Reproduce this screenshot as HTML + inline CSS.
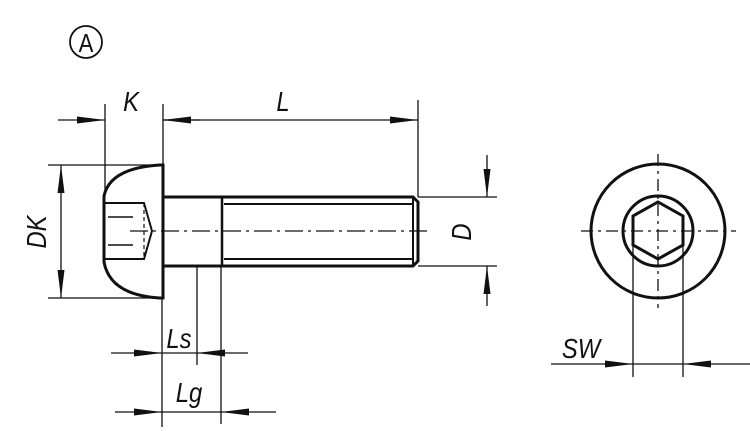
<!DOCTYPE html>
<html><head><style>body{margin:0;background:#fff}svg{display:block}
text{font-family:"Liberation Sans",sans-serif;font-style:italic;font-size:28px;fill:#111}</style></head>
<body><svg width="750" height="431" viewBox="0 0 750 431" xmlns="http://www.w3.org/2000/svg">
<defs><marker id="a" viewBox="0 0 10 10" refX="10" refY="5" markerWidth="28" markerHeight="7" markerUnits="userSpaceOnUse" orient="auto" preserveAspectRatio="none"><path d="M0,0L10,5L0,10z" fill="#111"/></marker></defs>
<g stroke="#111" fill="none">
<circle cx="86" cy="42" r="16" stroke-width="1.8"/>
<path d="M104,196 Q110,168 160,165 L163,165 L163,298 L160,298 Q110,295 104,262 Z" stroke-width="3"/>
<path d="M163,197 L413,197 L418,202 L418,261 L413,266 L163,266" stroke-width="3"/>
<line x1="222" y1="197" x2="222" y2="266" stroke-width="2.5"/>
<line x1="224" y1="204" x2="412" y2="204" stroke-width="2"/>
<line x1="224" y1="259" x2="412" y2="259" stroke-width="2"/>
<line x1="413" y1="197" x2="413" y2="266" stroke-width="2"/>
<path d="M105,203 L144,203 L152,231 L144,259 L105,259" stroke-width="2"/>
<line x1="108" y1="217" x2="133" y2="217" stroke-width="1.5"/>
<line x1="108" y1="245" x2="133" y2="245" stroke-width="1.5"/>
<line x1="144" y1="203" x2="144" y2="259" stroke-width="1.2" stroke-dasharray="4,3"/>
<line x1="130" y1="231" x2="430" y2="231" stroke-width="1.3" stroke-dasharray="18,5,3,5"/>
<g stroke-width="1.3">
<line x1="105" y1="104" x2="105" y2="196"/><line x1="163" y1="104" x2="163" y2="165"/>
<line x1="418" y1="100" x2="418" y2="197"/>
<line x1="58" y1="120" x2="105" y2="120" marker-end="url(#a)"/>
<line x1="163" y1="120" x2="418" y2="120" marker-end="url(#a)"/>
<line x1="200" y1="120" x2="163" y2="120" marker-end="url(#a)"/>
<line x1="48" y1="165" x2="160" y2="165"/><line x1="48" y1="298" x2="160" y2="298"/>
<line x1="61" y1="231" x2="61" y2="165" marker-end="url(#a)"/>
<line x1="61" y1="231" x2="61" y2="298" marker-end="url(#a)"/>
<line x1="418" y1="197" x2="497" y2="197"/><line x1="418" y1="266" x2="497" y2="266"/>
<line x1="487" y1="155" x2="487" y2="197" marker-end="url(#a)"/>
<line x1="487" y1="306" x2="487" y2="266" marker-end="url(#a)"/>
<line x1="162" y1="298" x2="162" y2="427"/>
<line x1="197" y1="266" x2="197" y2="365"/>
<line x1="221" y1="266" x2="221" y2="424"/>
<line x1="111" y1="353" x2="162" y2="353" marker-end="url(#a)"/>
<line x1="248" y1="353" x2="197" y2="353" marker-end="url(#a)"/>
<line x1="162" y1="353" x2="197" y2="353"/>
<line x1="115" y1="412" x2="162" y2="412" marker-end="url(#a)"/>
<line x1="276" y1="412" x2="221" y2="412" marker-end="url(#a)"/>
<line x1="162" y1="412" x2="221" y2="412"/>
</g>
<circle cx="658" cy="231" r="67" stroke-width="3"/>
<circle cx="658" cy="231" r="35" stroke-width="3"/>
<path d="M658,202 L683,216 L683,245 L658,259 L633,245 L633,216 Z" stroke-width="3"/>
<line x1="581" y1="231" x2="736" y2="231" stroke-width="1.3" stroke-dasharray="12,5,3,5"/>
<line x1="658" y1="154" x2="658" y2="308" stroke-width="1.3" stroke-dasharray="12,5,3,5"/>
<g stroke-width="1.3">
<line x1="633" y1="245" x2="633" y2="377"/><line x1="683" y1="245" x2="683" y2="377"/>
<line x1="551" y1="364" x2="633" y2="364" marker-end="url(#a)"/>
<line x1="750" y1="364" x2="683" y2="364" marker-end="url(#a)"/>
<line x1="633" y1="364" x2="683" y2="364"/>
</g>
</g>
<g transform="translate(86,52) scale(0.85,1)"><text x="0" y="0" text-anchor="middle" style="font-style:normal;font-size:26px">A</text></g>
<g transform="translate(131,111) scale(0.85,1)"><text text-anchor="middle">K</text></g>
<g transform="translate(283,111) scale(0.85,1)"><text text-anchor="middle">L</text></g>
<g transform="translate(581,358) scale(0.85,1)"><text text-anchor="middle">SW</text></g>
<g transform="translate(179,348) scale(0.85,1)"><text text-anchor="middle">Ls</text></g>
<g transform="translate(189,402) scale(0.85,1)"><text text-anchor="middle">Lg</text></g>
<g transform="translate(46,232) rotate(-90) scale(0.85,1)"><text text-anchor="middle" y="0">DK</text></g>
<g transform="translate(471,232) rotate(-90) scale(0.85,1)"><text text-anchor="middle">D</text></g>
</svg></body></html>
